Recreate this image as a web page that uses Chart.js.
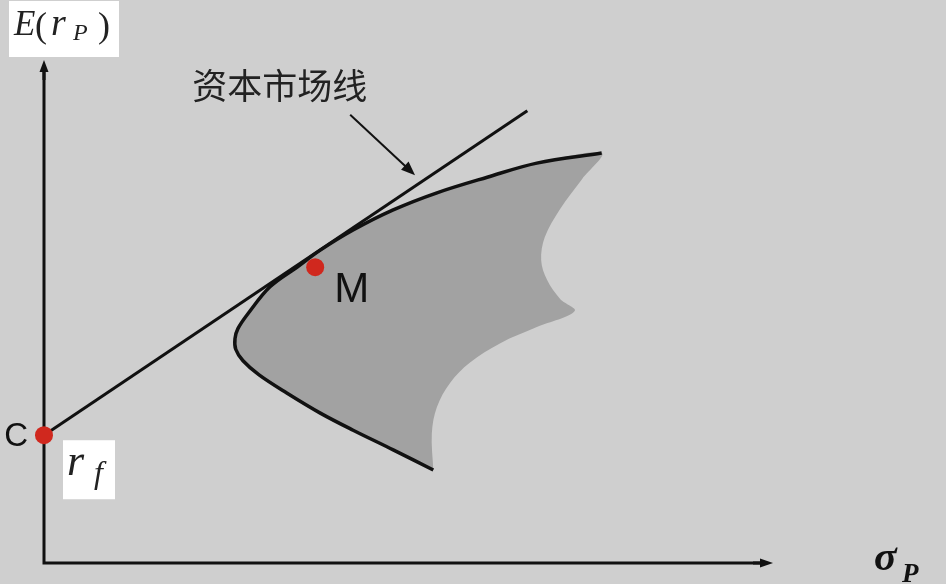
<!DOCTYPE html>
<html>
<head>
<meta charset="utf-8">
<script src="https://cdn.jsdelivr.net/npm/chart.js@4.4.1/dist/chart.umd.min.js"></script>
<style>
    html, body { margin: 0; padding: 0; background: #cfcfcf; }
    canvas { display: block; }
</style>
</head>
<body>
<canvas id="graficoLineaMercado" width="946" height="584"></canvas>
<script>
// Datos del gráfico (sigma en el eje x, rendimiento esperado en el eje y)
const puntosNombre = ['C', 'M'];
const puntosSigma = [0, 37.2];
const puntosRetorno = [25.4, 58.8];

// Línea del mercado de capitales
const lmcSigma = [0, 66.3];
const lmcRetorno = [25.4, 89.9];

// Frontera eficiente (borde negro), de abajo hacia arriba
const fronteraSigma = [53.4, 47.9, 42.4, 37.9, 33.3, 29.5, 27.3, 26.3, 26.2, 26.6, 28.0, 31.0, 34.7, 37.9, 42.4, 47.9, 53.9, 60.8, 67.6, 76.5];
const fronteraRetorno = [18.5, 22.5, 26.4, 29.8, 33.8, 37.4, 40.2, 42.5, 44.6, 46.6, 49.6, 54.9, 58.8, 62.2, 66.2, 70.2, 73.6, 76.7, 79.5, 81.5];

// Borde derecho del conjunto factible, de arriba hacia abajo
const bordeSigma = [73.8, 70.8, 68.7, 68.2, 69.0, 70.8, 72.8, 67.6, 62.6, 58.4, 55.7, 53.9, 53.2, 53.4];
const bordeRetorno = [76.3, 70.4, 64.8, 60.2, 56.3, 52.5, 50.1, 46.9, 43.7, 39.8, 35.8, 31.0, 25.8, 18.5];

// Flecha que señala la línea
const flechaSigma = [42.0, 50.9];
const flechaRetorno = [89.1, 77.1];

function aPuntos(xs, ys) {
    return xs.map((x, i) => ({ x: x, y: ys[i] }));
}

const conjuntoFactible = aPuntos(fronteraSigma, fronteraRetorno).concat(aPuntos(bordeSigma, bordeRetorno));

function dibujarFlecha(ctx, x1, y1, x2, y2, largo, ancho, grosor) {
    const ang = Math.atan2(y2 - y1, x2 - x1);
    ctx.save();
    ctx.strokeStyle = '#111';
    ctx.fillStyle = '#111';
    ctx.lineWidth = grosor;
    ctx.beginPath();
    ctx.moveTo(x1, y1);
    ctx.lineTo(x2 - Math.cos(ang) * largo * 0.6, y2 - Math.sin(ang) * largo * 0.6);
    ctx.stroke();
    ctx.translate(x2, y2);
    ctx.rotate(ang);
    ctx.beginPath();
    ctx.moveTo(0, 0);
    ctx.lineTo(-largo, -ancho / 2);
    ctx.lineTo(-largo, ancho / 2);
    ctx.closePath();
    ctx.fill();
    ctx.restore();
}

const pluginEjes = {
    id: 'ejes',
    beforeDraw(chart) {
        const ctx = chart.ctx;
        ctx.save();
        ctx.fillStyle = '#cfcfcf';
        ctx.fillRect(0, 0, chart.width, chart.height);
        ctx.restore();
    },
    beforeDatasetsDraw(chart) {
        const ctx = chart.ctx;
        const xs = chart.scales.x, ys = chart.scales.y;
        const x0 = xs.getPixelForValue(0), y0 = ys.getPixelForValue(0);
        const area = chart.chartArea;
        ctx.save();
        ctx.strokeStyle = '#111';
        ctx.lineWidth = 3;
        ctx.beginPath();
        ctx.moveTo(x0, area.top + 8);
        ctx.lineTo(x0, y0);
        ctx.lineTo(area.right - 8, y0);
        ctx.stroke();
        ctx.restore();
        dibujarFlecha(ctx, x0, area.top + 20, x0, area.top, 12, 9, 3);
        dibujarFlecha(ctx, area.right - 20, y0, area.right, y0, 13, 9, 3);

        // flecha de la etiqueta
        dibujarFlecha(ctx,
            xs.getPixelForValue(flechaSigma[0]), ys.getPixelForValue(flechaRetorno[0]),
            xs.getPixelForValue(flechaSigma[1]), ys.getPixelForValue(flechaRetorno[1]),
            14, 11, 2);
    },
    afterDatasetsDraw(chart) {
        const ctx = chart.ctx;
        const xs = chart.scales.x, ys = chart.scales.y;
        const x0 = xs.getPixelForValue(0), y0 = ys.getPixelForValue(0);
        const area = chart.chartArea;
        const yRf = ys.getPixelForValue(puntosRetorno[0]);
        const xM = xs.getPixelForValue(puntosSigma[1]);
        const yM = ys.getPixelForValue(puntosRetorno[1]);

        ctx.save();
        ctx.textBaseline = 'alphabetic';

        // E(r_P)
        ctx.fillStyle = '#ffffff';
        ctx.fillRect(x0 - 35, area.top - 59, 110, 56);
        ctx.fillStyle = '#222';
        const base = area.top - 25;
        ctx.font = 'italic 35px "Liberation Serif"';
        ctx.fillText('E', x0 - 30, base);
        ctx.font = '36px "Liberation Serif"';
        ctx.fillText('(', x0 - 9, base + 2);
        ctx.font = 'italic 38px "Liberation Serif"';
        ctx.fillText('r', x0 + 7, base);
        ctx.font = 'italic 24px "Liberation Serif"';
        ctx.fillText('P', x0 + 29, base + 5);
        ctx.font = '36px "Liberation Serif"';
        ctx.fillText(')', x0 + 54, base + 2);

        // r_f
        ctx.fillStyle = '#ffffff';
        ctx.fillRect(x0 + 19, yRf + 5, 52, 59);
        ctx.fillStyle = '#222';
        ctx.font = 'italic 44px "Liberation Serif"';
        ctx.fillText('r', x0 + 23, yRf + 40);
        ctx.font = 'italic 32px "Liberation Serif"';
        ctx.fillText('f', x0 + 50, yRf + 48);

        // sigma_P
        ctx.fillStyle = '#111';
        ctx.font = 'bold italic 42px "Liberation Serif"';
        ctx.fillText('σ', area.right + 101, y0 + 7);
        ctx.font = 'bold italic 27px "Liberation Serif"';
        ctx.fillText('P', area.right + 129, y0 + 19);

        // C y M
        ctx.font = '33px "Liberation Sans"';
        ctx.textAlign = 'right';
        ctx.textBaseline = 'middle';
        ctx.fillText(puntosNombre[0], x0 - 16, yRf + 2);
        ctx.textAlign = 'left';
        ctx.font = '42px "Liberation Sans"';
        ctx.fillText(puntosNombre[1], xM + 19, yM + 23);

        // etiqueta de la línea
        ctx.fillStyle = '#222';
        ctx.font = '35px "Noto Sans CJK SC"';
        ctx.textBaseline = 'middle';
        ctx.fillText('资本市场线', xs.getPixelForValue(flechaSigma[0]) - 158, ys.getPixelForValue(flechaRetorno[0]) - 29);
        ctx.restore();
    }
};

const config = {
    type: 'scatter',
    data: {
        datasets: [{
            label: 'Puntos',
            data: aPuntos(puntosSigma, puntosRetorno),
            pointRadius: 9,
            pointBackgroundColor: '#d0281e',
            pointBorderWidth: 0,
            clip: false,
            order: 0
        }, {
            label: 'Línea del mercado de capitales',
            data: aPuntos(lmcSigma, lmcRetorno),
            showLine: true,
            borderColor: '#111',
            borderWidth: 3,
            pointRadius: 0,
            clip: false,
            order: 1
        }, {
            label: 'Frontera eficiente',
            data: aPuntos(fronteraSigma, fronteraRetorno),
            showLine: true,
            borderColor: '#111',
            borderWidth: 3.5,
            pointRadius: 0,
            tension: 0.35,
            clip: false,
            order: 2
        }, {
            label: 'Conjunto factible',
            data: conjuntoFactible,
            showLine: true,
            borderWidth: 0,
            borderColor: 'rgba(0,0,0,0)',
            backgroundColor: '#a2a2a2',
            fill: 'shape',
            pointRadius: 0,
            tension: 0.35,
            clip: false,
            order: 3
        }]
    },
    options: {
        responsive: false,
        animation: false,
        layout: {
            padding: { left: 44, right: 173, top: 60, bottom: 21 }
        },
        scales: {
            x: { type: 'linear', min: 0, max: 100, display: false },
            y: { type: 'linear', min: 0, max: 100, display: false }
        },
        plugins: {
            legend: { display: false },
            tooltip: { enabled: false }
        }
    },
    plugins: [pluginEjes]
};

document.addEventListener('DOMContentLoaded', function() {
    const ctx = document.getElementById('graficoLineaMercado').getContext('2d');
    new Chart(ctx, config);
});
</script>
</body>
</html>
